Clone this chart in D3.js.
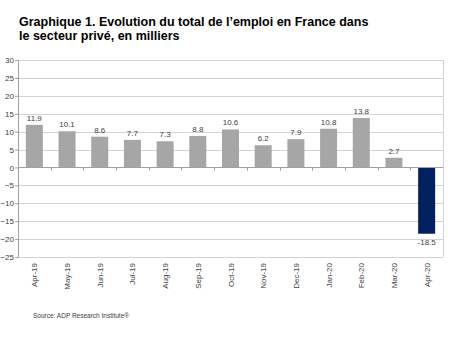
<!DOCTYPE html>
<html>
<head>
<meta charset="utf-8">
<script src="https://cdn.jsdelivr.net/npm/d3@7"></script>
<style>
  body { margin: 0; background: #fff; }
  svg { font-family: "Liberation Sans", Arial, sans-serif; }
</style>
</head>
<body>
<svg id="chart" width="450" height="338"></svg>
<script>
// data
const months = ["Apr-19", "May-19", "Jun-19", "Jul-19", "Aug-19", "Sep-19", "Oct-19",
                "Nov-19", "Dec-19", "Jan-20", "Feb-20", "Mar-20", "Apr-20"];
const values = [11.9, 10.1, 8.6, 7.7, 7.3, 8.8, 10.6, 6.2, 7.9, 10.8, 13.8, 2.7, -18.5];
const yTicks = [30, 25, 20, 15, 10, 5, 0, -5, -10, -15, -20, -25];

var svg = d3.select("#chart"),
    margin = { top: 60, right: 7, bottom: 81, left: 18 },
    width = +svg.attr("width") - margin.left - margin.right,
    height = +svg.attr("height") - margin.top - margin.bottom,
    g = svg.append("g").attr("transform", "translate(" + margin.left + "," + margin.top + ")");

// title
var title = svg.append("text")
    .attr("x", 19)
    .attr("font-size", 12.5)
    .attr("font-weight", "bold")
    .attr("fill", "#000");
title.append("tspan").attr("x", 19).attr("y", 26).text("Graphique 1. Evolution du total de l\u2019emploi en France dans");
title.append("tspan").attr("x", 19).attr("y", 40).text("le secteur priv\u00e9, en milliers");

var x = d3.scaleBand()
    .domain(months)
    .range([0, width])
    .paddingInner(0.48)
    .paddingOuter(0.24);

var y = d3.scaleLinear()
    .domain([-25, 30])
    .range([height, 0]);

// gridlines
g.append("g")
    .selectAll("line")
    .data(yTicks)
    .enter().append("line")
    .attr("x1", 0)
    .attr("x2", width)
    .attr("y1", d => Math.round(y(d)) + 0.5)
    .attr("y2", d => Math.round(y(d)) + 0.5)
    .attr("stroke", "#d4d4d4");

// right border of plot area
g.append("line")
    .attr("x1", width + 0.5).attr("x2", width + 0.5)
    .attr("y1", 0).attr("y2", height)
    .attr("stroke", "#d4d4d4");

// bars
g.append("g")
    .selectAll("rect")
    .data(values)
    .enter().append("rect")
    .attr("x", (d, i) => x(months[i]))
    .attr("y", d => y(Math.max(0, d)))
    .attr("width", x.bandwidth())
    .attr("height", d => Math.abs(y(d) - y(0)))
    .attr("fill", (d, i) => i == values.length - 1 ? "#002060" : "#a6a6a6");

// value labels
g.append("g")
    .selectAll("text")
    .data(values)
    .enter().append("text")
    .attr("x", (d, i) => x(months[i]) + x.bandwidth() / 2)
    .attr("y", d => d >= 0 ? y(d) - 4 : y(d) + 11)
    .attr("text-anchor", "middle")
    .attr("font-size", 8)
    .attr("fill", "#404040")
    .text(d => d);

// y axis
var yAxis = g.append("g")
    .call(d3.axisLeft(y).tickValues(yTicks).tickSize(3).tickSizeOuter(0));
yAxis.select(".domain").attr("stroke", "#a0a0a0");
yAxis.selectAll(".tick line").attr("stroke", "#a0a0a0");
yAxis.selectAll(".tick text")
    .attr("font-size", 8)
    .attr("fill", "#404040")
    .attr("x", -4)
    .attr("font-family", "Liberation Sans, Arial, sans-serif");

// x axis line at zero with ticks between bands
var xAxisG = g.append("g").attr("transform", "translate(0," + (Math.round(y(0)) + 0.5) + ")");
xAxisG.append("line")
    .attr("x1", 0).attr("x2", width)
    .attr("stroke", "#a0a0a0");
xAxisG.selectAll(".sep")
    .data(months.slice(1))
    .enter().append("line")
    .attr("class", "sep")
    .attr("x1", d => Math.round(x(d) - x.step() * x.paddingInner() / 2) + 0.5)
    .attr("x2", d => Math.round(x(d) - x.step() * x.paddingInner() / 2) + 0.5)
    .attr("y1", 0).attr("y2", 3)
    .attr("stroke", "#a0a0a0");

// month labels, rotated, at the bottom of the plot
g.append("g")
    .selectAll("text")
    .data(months)
    .enter().append("text")
    .attr("transform", d => "translate(" + (x(d) + x.bandwidth() / 2 + 3) + "," + (height + 6) + ") rotate(-90)")
    .attr("text-anchor", "end")
    .attr("font-size", 8)
    .attr("fill", "#404040")
    .text(d => d);

// source
svg.append("text")
    .attr("x", 33)
    .attr("y", 318)
    .attr("font-size", 6.5)
    .attr("fill", "#404040")
    .text("Source: ADP Research Institute\u00ae");
</script>
</body>
</html>
